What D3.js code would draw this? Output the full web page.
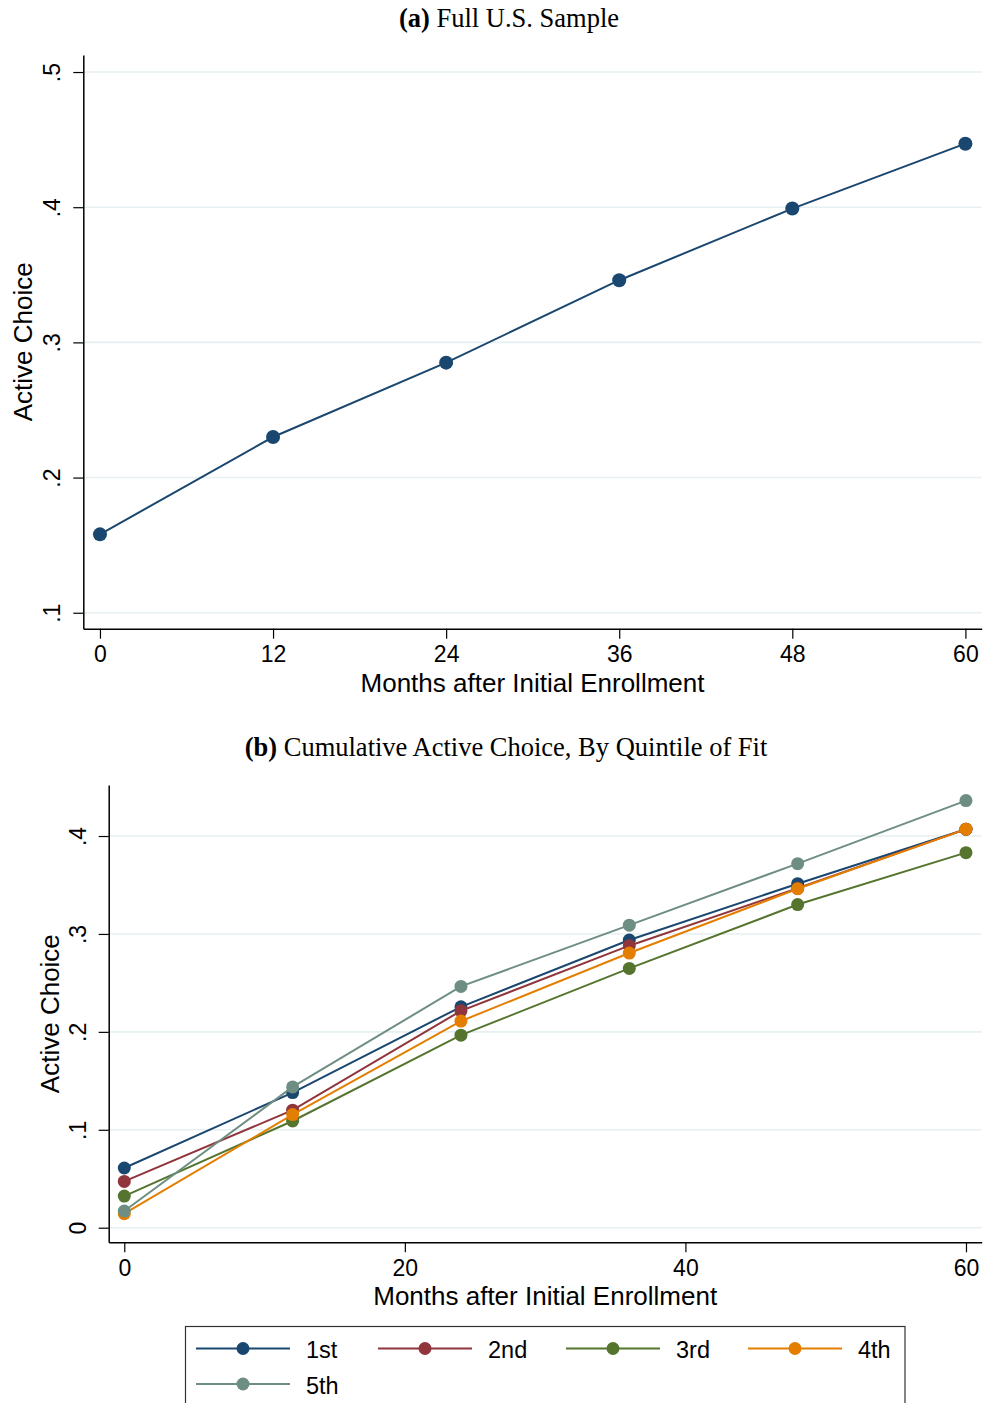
<!DOCTYPE html>
<html>
<head>
<meta charset="utf-8">
<script src="https://cdn.jsdelivr.net/npm/d3@7"></script>
<style>
  html, body { margin: 0; padding: 0; background: #fff; }
  svg { display: block; }
</style>
</head>
<body>
<svg id="chart" width="986" height="1403"></svg>
<script>
// ---------- DATA ----------
const months = [0, 12, 24, 36, 48, 60];
const fullSample = [0.158, 0.230, 0.285, 0.346, 0.399, 0.447];

const quintileNames = ["1st", "2nd", "3rd", "4th", "5th"];
const q1 = [0.061, 0.138, 0.2256, 0.2938, 0.3513, 0.4069];
const q2 = [0.0473, 0.120, 0.2215, 0.288, 0.3466, 0.4070];
const q3 = [0.0323, 0.109, 0.1966, 0.2648, 0.330, 0.383];
const q4 = [0.0143, 0.1155, 0.211, 0.2805, 0.3462, 0.4070];
const q5 = [0.017, 0.1438, 0.2464, 0.309, 0.3718, 0.4362];
const quintileValues = [q1, q2, q3, q4, q5];

const topXTicks = [0, 12, 24, 36, 48, 60];
const topYTicks = [0.1, 0.2, 0.3, 0.4, 0.5];
const botXTicks = [0, 20, 40, 60];
const botYTicks = [0, 0.1, 0.2, 0.3, 0.4];

const colors = ["#1a476f", "#90353b", "#55752f", "#e37e00", "#6e8e84"];

// ---------- HELPERS ----------
const svg = d3.select("#chart");
const SANS = "'Liberation Sans', Arial, Helvetica, sans-serif";
const SERIF = "'Liberation Serif', 'Times New Roman', serif";
const fmtY = v => (v === 0 ? "0" : d3.format(".1f")(v).replace(/^0/, ""));

function panel(cfg) {
  const g = svg.append("g");
  const x = d3.scaleLinear().domain(cfg.xDomain).range([cfg.left, cfg.right]);
  const y = d3.scaleLinear().domain(cfg.yDomain).range([cfg.bottom, cfg.top]);

  // gridlines
  g.append("g").selectAll("line").data(cfg.yTicks).join("line")
    .attr("x1", cfg.left).attr("x2", cfg.right)
    .attr("y1", d => y(d)).attr("y2", d => y(d))
    .attr("stroke", "#e6eff1").attr("stroke-width", 1.6);

  // x axis
  const xa = g.append("g").attr("transform", `translate(0,${cfg.bottom})`)
    .call(d3.axisBottom(x).tickValues(cfg.xTicks).tickSize(10).tickSizeOuter(0).tickPadding(7));
  xa.select(".domain").attr("stroke", "#000").attr("stroke-width", 1.5);
  xa.selectAll(".tick line").attr("stroke", "#000").attr("stroke-width", 1.2);
  xa.selectAll(".tick text").attr("font-family", SANS).attr("font-size", 23).attr("fill", "#000");

  // y axis
  const ya = g.append("g").attr("transform", `translate(${cfg.left},0)`)
    .call(d3.axisLeft(y).tickValues(cfg.yTicks).tickFormat(fmtY).tickSize(10).tickSizeOuter(0));
  ya.select(".domain").attr("stroke", "#000").attr("stroke-width", 1.5);
  ya.selectAll(".tick line").attr("stroke", "#000").attr("stroke-width", 1.2);
  ya.selectAll(".tick text")
    .attr("font-family", SANS).attr("font-size", 23).attr("fill", "#000")
    .attr("x", null).attr("dy", null)
    .attr("text-anchor", "middle")
    .attr("transform", `translate(${cfg.yTickBaseline - cfg.left},0) rotate(-90)`);

  // titles
  g.append("text").attr("x", (cfg.left + cfg.right) / 2).attr("y", cfg.xTitleY)
    .attr("text-anchor", "middle").attr("font-family", SANS).attr("font-size", 26)
    .text("Months after Initial Enrollment");
  g.append("text")
    .attr("transform", `translate(${cfg.yTitleX},${(cfg.top + cfg.bottom) / 2}) rotate(-90)`)
    .attr("text-anchor", "middle").attr("font-family", SANS).attr("font-size", 26)
    .text("Active Choice");

  const t = g.append("text").attr("x", cfg.titleX).attr("y", cfg.titleY)
    .attr("text-anchor", "middle").attr("font-family", SERIF).attr("font-size", 26.5);
  t.append("tspan").attr("font-weight", "bold").text(cfg.titleLetter);
  t.append("tspan").text(" " + cfg.titleText);

  return { g, x, y };
}

function series(p, xs, ys, color, r) {
  const pts = xs.map((m, i) => [m, ys[i]]);
  p.g.append("path").datum(pts)
    .attr("fill", "none").attr("stroke", color).attr("stroke-width", 2)
    .attr("d", d3.line().x(d => p.x(d[0])).y(d => p.y(d[1])));
  p.g.append("g").selectAll("circle").data(pts).join("circle")
    .attr("cx", d => p.x(d[0])).attr("cy", d => p.y(d[1])).attr("r", r)
    .attr("fill", color);
}

// ---------- PANEL A ----------
const pA = panel({
  left: 83.3, right: 981.7, top: 55, bottom: 628.7,
  xDomain: [-1.155, 61.13], yDomain: [0.0882, 0.5126],
  xTicks: topXTicks, yTicks: topYTicks,
  yTickBaseline: 60, xTitleY: 692, yTitleX: 32,
  titleX: 509, titleY: 27, titleLetter: "(a)", titleText: "Full U.S. Sample"
});
series(pA, months, fullSample, colors[0], 7);

// ---------- PANEL B ----------
const pB = panel({
  left: 108.7, right: 981.7, top: 785, bottom: 1242.3,
  xDomain: [-1.111, 61.12], yDomain: [-0.0149, 0.4521],
  xTicks: botXTicks, yTicks: botYTicks,
  yTickBaseline: 86, xTitleY: 1305, yTitleX: 59,
  titleX: 506, titleY: 756, titleLetter: "(b)", titleText: "Cumulative Active Choice, By Quintile of Fit"
});
quintileValues.forEach((vals, i) => series(pB, months, vals, colors[i], 6.5));

// ---------- LEGEND ----------
const leg = svg.append("g");
leg.append("rect").attr("x", 185.5).attr("y", 1326.5).attr("width", 719.5).attr("height", 100)
  .attr("fill", "#fff").attr("stroke", "#333").attr("stroke-width", 1.2);
const legX = [196, 378, 566, 748];
quintileNames.forEach((name, i) => {
  const col = i % 4, row = Math.floor(i / 4);
  const x0 = legX[col];
  const yc = 1348.5 + row * 35.5;
  leg.append("line").attr("x1", x0).attr("x2", x0 + 94).attr("y1", yc).attr("y2", yc)
    .attr("stroke", colors[i]).attr("stroke-width", 2);
  leg.append("circle").attr("cx", x0 + 47).attr("cy", yc).attr("r", 6.5).attr("fill", colors[i]);
  leg.append("text").attr("x", x0 + 110).attr("y", yc + 9.5)
    .attr("font-family", SANS).attr("font-size", 23.5).text(name);
});
</script>
</body>
</html>
